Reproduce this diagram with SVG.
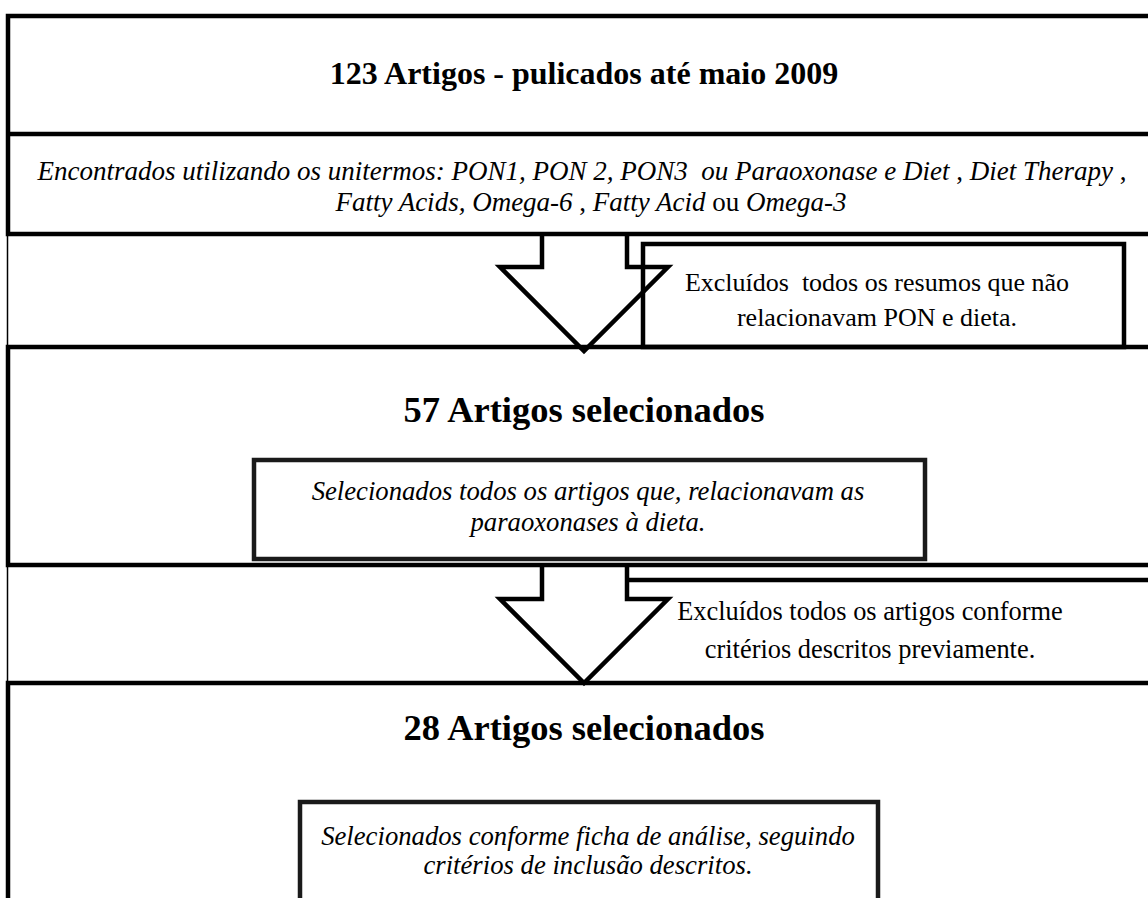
<svg xmlns="http://www.w3.org/2000/svg" width="1148" height="898" viewBox="0 0 1148 898">
<style>
.box{fill:none;stroke:#000;stroke-width:4.5;}
.inner{fill:#fff;stroke:#1a1a1a;stroke-width:4.5;}
.thin{fill:none;stroke:#000;stroke-width:1.5;}
.arrow{fill:none;stroke:#000;stroke-width:4.5;stroke-linejoin:miter;}
.t{font-family:"Liberation Serif","Times New Roman",serif;fill:#000;white-space:pre;}
.b{font-weight:bold;font-size:32px;text-anchor:middle;}
.h{font-weight:bold;font-size:36.5px;text-anchor:middle;}
.i{font-style:italic;font-size:27px;}
.j{font-style:italic;font-size:26.7px;}
.r{font-size:26.4px;text-anchor:middle;}
.n{font-style:normal;}
</style>
<rect width="1148" height="898" fill="#fff"/>
<g id="box1">
<rect class="box" x="8" y="16" width="1160" height="218"/>
<line class="box" x1="8" y1="134" x2="1148" y2="134"/>
<text class="t b" x="584" y="84">123 Artigos - pulicados até maio 2009</text>
<text class="t i" x="582" y="180" text-anchor="middle" xml:space="preserve">Encontrados utilizando os unitermos: PON1, PON 2, PON3  ou Paraoxonase e Diet <tspan class="n">,</tspan> Diet Therapy <tspan class="n">,</tspan></text>
<text class="t i" x="591" y="211" text-anchor="middle">Fatty Acids, Omega-6 <tspan class="n">,</tspan> Fatty Acid <tspan class="n">ou</tspan> Omega-3</text>
</g>
<g id="box2">
<rect class="box" x="8" y="347" width="1160" height="218"/>
<text class="t h" x="584" y="422">57 Artigos selecionados</text>
</g>
<g id="inner2">
<rect class="inner" x="254" y="460" width="671" height="99"/>
<text class="t j" x="588" y="500" text-anchor="middle">Selecionados todos os artigos que, relacionavam as</text>
<text class="t j" x="588" y="531" text-anchor="middle">paraoxonases à dieta.</text>
</g>
<g id="box3">
<rect class="box" x="8" y="683" width="1160" height="260"/>
<text class="t h" x="584" y="740">28 Artigos selecionados</text>
</g>
<g id="inner3">
<rect class="inner" x="300" y="802" width="578" height="140"/>
<text class="t j" x="588" y="845" text-anchor="middle">Selecionados conforme ficha de análise, seguindo</text>
<text class="t j" x="588" y="874" text-anchor="middle">critérios de inclusão descritos.</text>
</g>
<g id="excl1">
<rect class="box" x="643" y="244" width="481" height="103"/>
<text class="t r" x="877" y="291" xml:space="preserve" style="font-size:26px">Excluídos  todos os resumos que não</text>
<text class="t r" x="877" y="326" style="font-size:26px">relacionavam PON e dieta.</text>
</g>
<g id="excl2">
<line class="box" x1="627" y1="580" x2="1148" y2="580"/>
<text class="t r" x="870" y="620">Excluídos todos os artigos conforme</text>
<text class="t r" x="870" y="658">critérios descritos previamente.</text>
</g>
<g id="connectors">
<line class="thin" x1="7.5" y1="234" x2="7.5" y2="347"/>
<line class="thin" x1="7.5" y1="565" x2="7.5" y2="683"/>
<polyline class="arrow" points="542,234 542,267 500,267 584,351 668,267 627,267 627,234"/>
<polyline class="arrow" points="542,565 542,599 500,599 584,683 668,599 627,599 627,565"/>
</g>
</svg>
